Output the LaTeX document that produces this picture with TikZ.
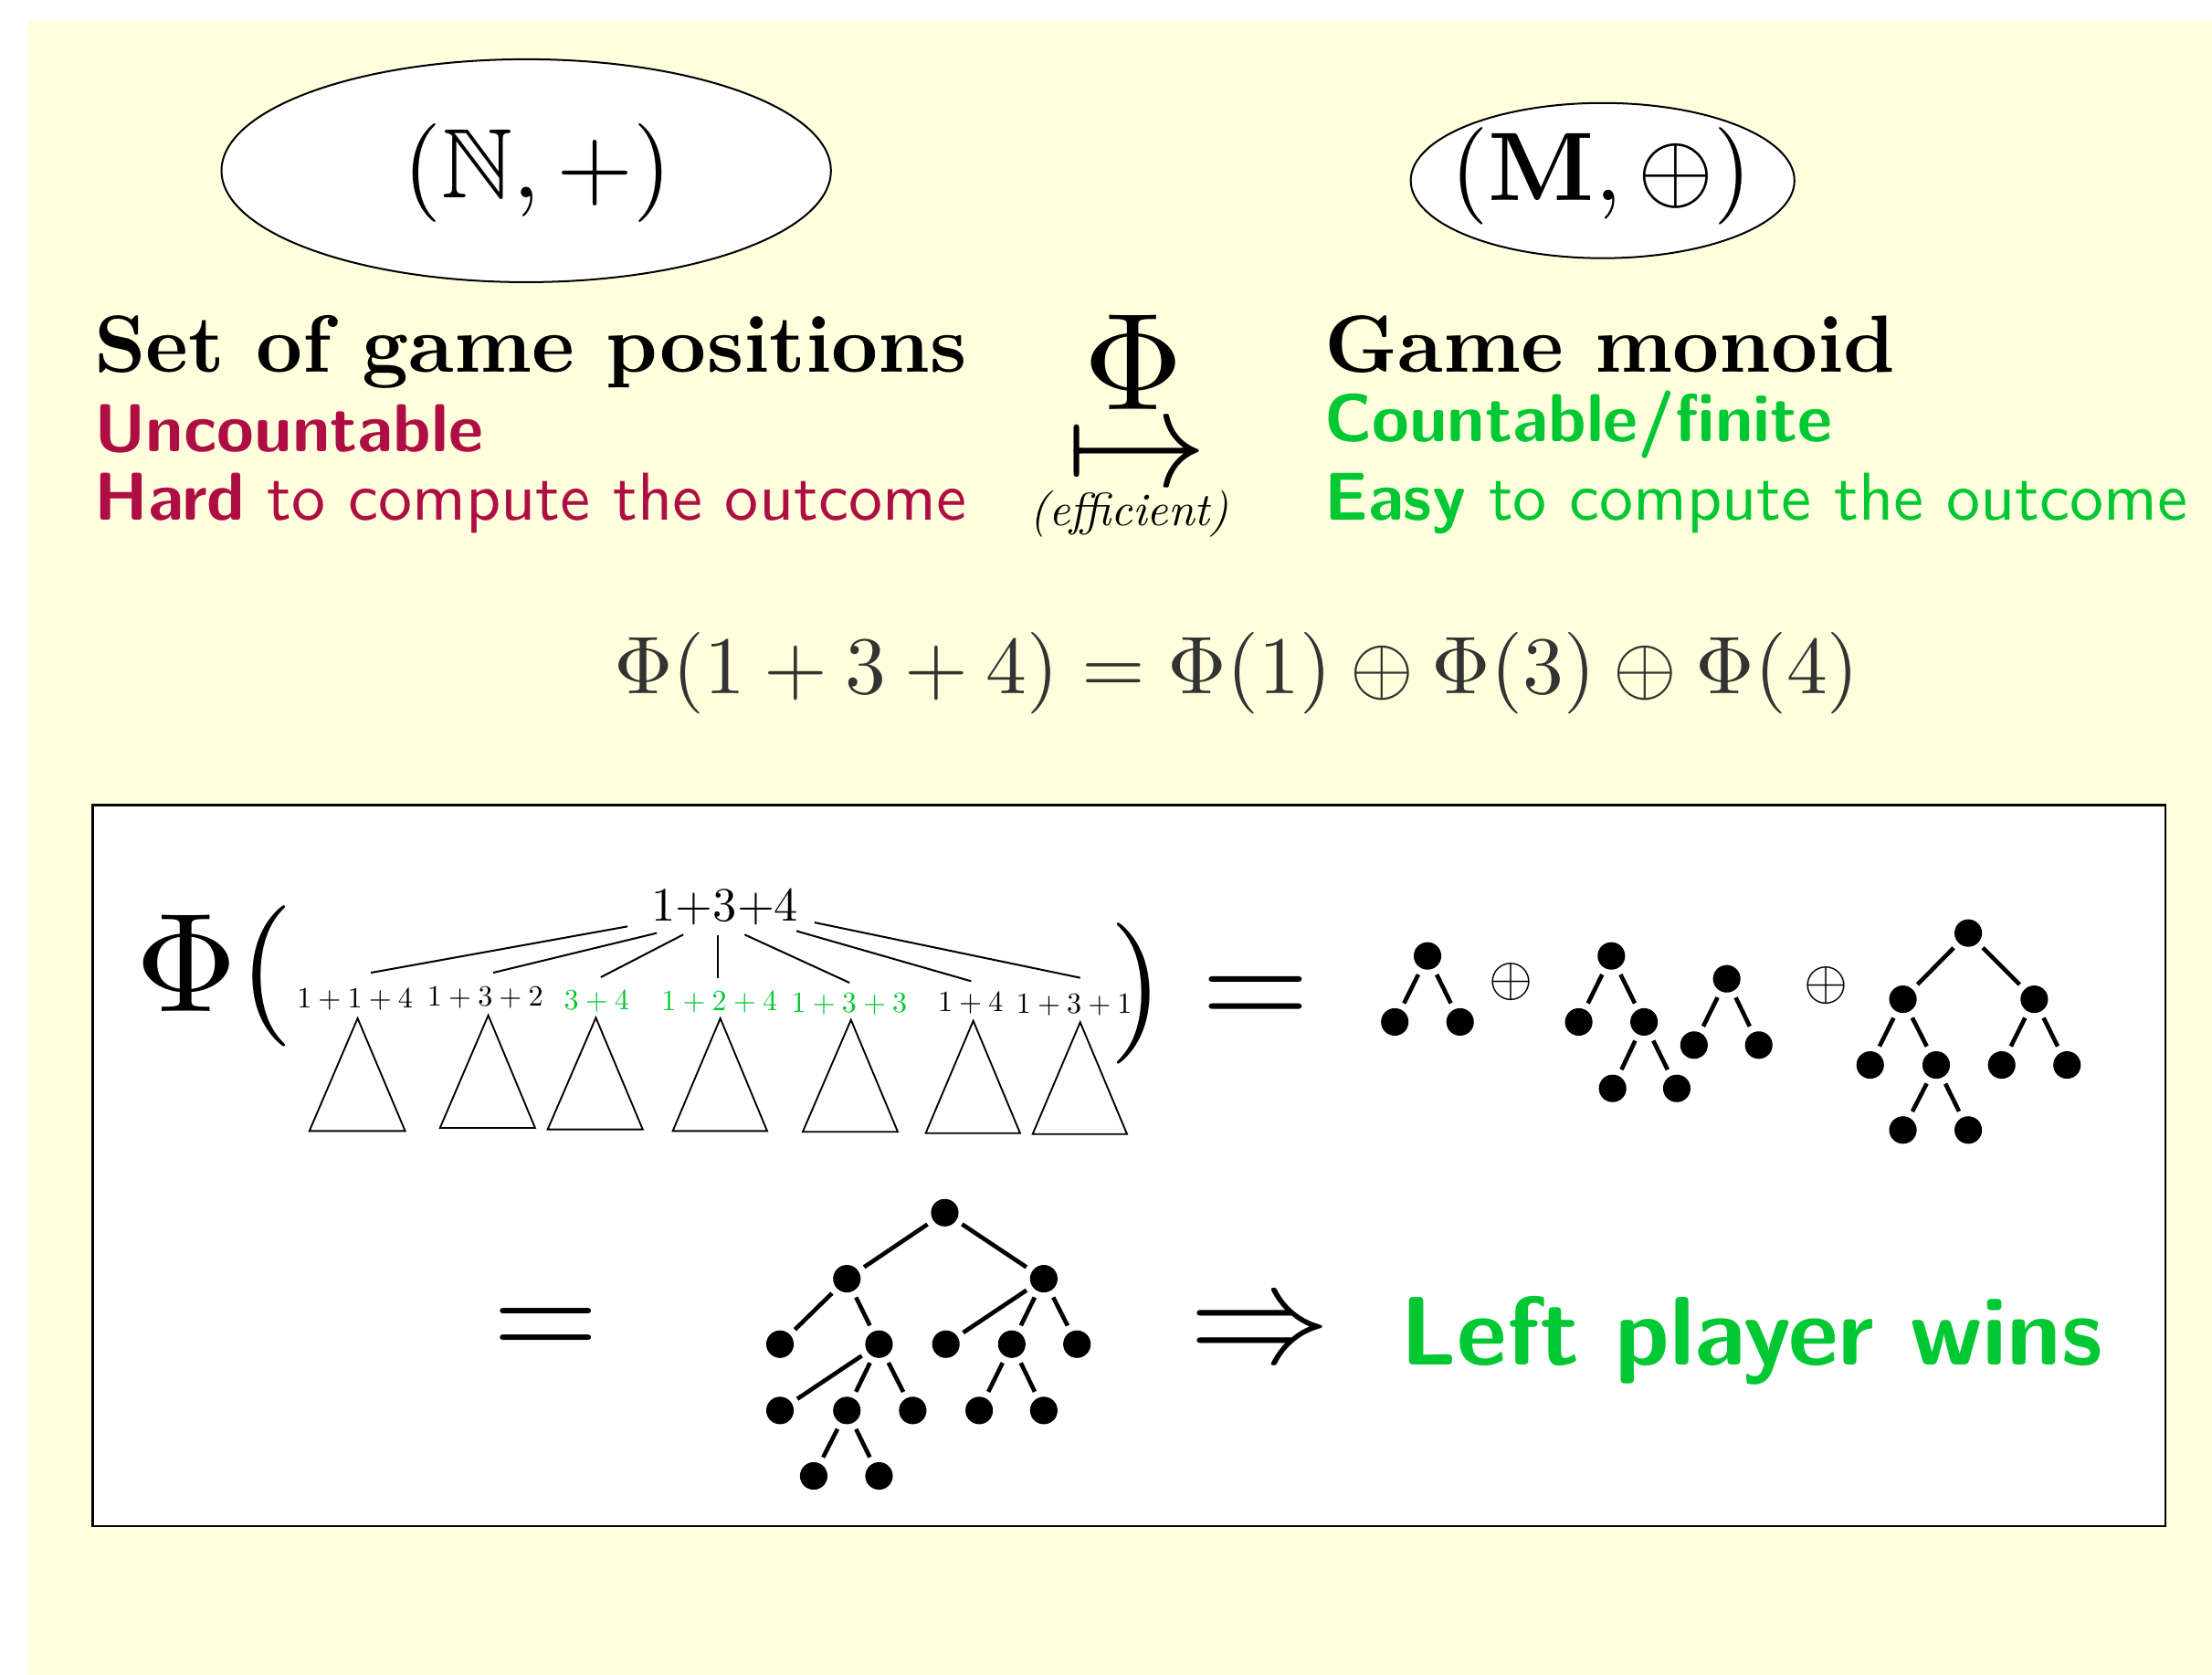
\documentclass[tikz,border=0pt]{standalone}
\usepackage{amssymb}
\usepackage[no-math]{fontspec}
\setmainfont{lmroman10-regular.otf}[BoldFont=lmroman10-bold.otf, ItalicFont=lmroman10-italic.otf, BoldItalicFont=lmroman10-bolditalic.otf]
\setsansfont{lmsans10-regular.otf}[BoldFont=lmsans10-bold.otf, ItalicFont=lmsans10-oblique.otf, BoldItalicFont=lmsans10-boldoblique.otf]
\DeclareFontShape{OT1}{cmr}{m}{n}{<->cmr10}{}
\DeclareFontShape{OT1}{cmr}{bx}{n}{<->cmbx10}{}
\DeclareFontShape{OML}{cmm}{m}{it}{<->cmmi10}{\skewchar\font'177}
\DeclareFontShape{OMS}{cmsy}{m}{n}{<->cmsy10}{\skewchar\font'60}
\DeclareFontShape{OMX}{cmex}{m}{n}{<->cmex10}{}
\usetikzlibrary{shapes.geometric}
\definecolor{bgyellow}{RGB}{255,255,222}
\definecolor{hardred}{RGB}{174,14,68}
\definecolor{easygreen}{RGB}{0,200,50}
\definecolor{eqgray}{RGB}{51,51,51}
\newcommand{\fs}[1]{\fontsize{#1}{#1}\selectfont}
\tikzset{
  txt/.style={inner sep=0pt, outer sep=0pt},
  oval/.style={ellipse, draw, fill=white, line width=1.3pt, inner sep=0pt},
  dot/.style={circle, fill=black, inner sep=0pt, minimum size=19.5pt, outer sep=5pt},
  tedge/.style={line width=3pt},
  gedge/.style={line width=1.3pt},
  tri/.style={line width=1.2pt, line join=miter},
  small/.style={txt, anchor=base, font=\fs{20.8}},
}
\begin{document}
\begin{tikzpicture}[x=1pt,y=-1pt]
\useasboundingbox (0,0) rectangle (1568,1187);
\fill[white] (0,0) rectangle (1568,1187);
\fill[bgyellow] (20,15) rectangle (1568,1187);

% header ovals
\node[oval, minimum width=432pt, minimum height=158pt] (ellN) at (373,121) {};
\node[txt, anchor=base] (setN) at (381,140) {\fs{70}$(\mathbb{N},+)$};
\node[oval, minimum width=272pt, minimum height=110pt] (ellM) at (1136,128) {};
\node[txt, anchor=base] (monM) at (1135,142) {\fs{69}$(\mathbf{M},\oplus)$};

% left texts
\node[txt, anchor=base west] (setpos) at (66.8,263.5) {\fs{57.5}\bfseries Set of game positions};
\node[txt, anchor=base west, text=hardred] (unc) at (66.8,320) {\fs{48}\sffamily\bfseries Uncountable};
\node[txt, anchor=base west, text=hardred] (hard) at (67,368.5) {\fs{48}\sffamily\textbf{Hard} to compute the outcome};

% right texts
\node[txt, anchor=base west] (gmon) at (939,263.5) {\fs{57.5}\bfseries Game monoid};
\node[txt, anchor=base west, text=easygreen] (cnt) at (939,313) {\fs{48}\sffamily\bfseries Countable/finite};
\node[txt, anchor=base west, text=easygreen] (easy) at (939,368.5) {\fs{48}\sffamily\textbf{Easy} to compute the outcome};

% map
\node[txt, anchor=base] (phiTop) at (803.5,290.5) {\fs{98}$\Phi$};
\node[txt, anchor=base, text height=48pt, text depth=0pt] (mapsto) at (806,345) {\fs{100}$\mapsto$};
\node[txt, anchor=base] (eff) at (800.5,372.8) {\fs{33}\itshape (efficient)};

% equation
\node[txt, anchor=base, text=eqgray] (eqn) at (876.5,492) {\fs{58}$\Phi(1+3+4)=\Phi(1)\oplus\Phi(3)\oplus\Phi(4)$};

% box
\node[draw, fill=white, line width=1.4pt, minimum width=1469pt, minimum height=511pt, anchor=north west, inner sep=0pt] (box) at (65,570) {};

% Phi( ... ) =
\node[txt, anchor=base] (bigphi) at (132.5,717) {\fs{100}$\Phi$};
\node[txt, anchor=base] (lpar) at (188.5,717) {\fs{100}$($};
\node[txt, anchor=base] (rpar) at (806,729) {\fs{100}$)$};
\node[txt, anchor=base] (eqA) at (890,728.5) {\fs{99}$=$};

% game tree labels
\node[txt, anchor=base] (root) at (514,653) {\fs{34}1+3+4};
\node[small] (c1) at (251.6,714.3) {$1+1+4$};
\node[small] (c2) at (344,713.2) {$1+3+2$};
\node[small, text=easygreen] (c3) at (423,716) {$3+4$};
\node[small, text=easygreen] (c4) at (510,716.4) {$1+2+4$};
\node[small, text=easygreen] (c5) at (602,717.5) {$1+3+3$};
\node[small] (c6) at (688,717) {$1+4$};
\node[small] (c7) at (761.5,718.2) {$1+3+1$};

\coordinate (r1) at (444.7,656.7); \coordinate (k1) at (262.9,689.5);
\coordinate (r2) at (465.5,661.4); \coordinate (k2) at (349.6,689.5);
\coordinate (r3) at (484.3,662.5); \coordinate (k3) at (425.9,692.7);
\coordinate (r4) at (509.1,663.0); \coordinate (k4) at (509.1,693.4);
\coordinate (r5) at (527.9,662.5); \coordinate (k5) at (602.2,696.6);
\coordinate (r6) at (564.5,659.9); \coordinate (k6) at (688.4,695.5);
\coordinate (r7) at (577.4,653.9); \coordinate (k7) at (765.7,693.1);
\foreach \i in {1,...,7} {\draw[gedge] (r\i) -- (k\i);}

% subtree triangles
\draw[tri] (253.5,721.8) -- (287.2,801.7) -- (219.3,801.7) -- cycle;
\draw[tri] (346.1,719.7) -- (379.3,799.5) -- (311.9,799.5) -- cycle;
\draw[tri] (422.4,721.4) -- (455.6,800.6) -- (388.2,800.6) -- cycle;
\draw[tri] (510.6,721.8) -- (543.8,801.7) -- (476.9,801.7) -- cycle;
\draw[tri] (603.2,722.9) -- (636.4,802.3) -- (569.0,802.3) -- cycle;
\draw[tri] (689.9,723.6) -- (723.1,803.2) -- (656.2,803.2) -- cycle;
\draw[tri] (765.7,724.6) -- (798.9,803.9) -- (732.0,803.9) -- cycle;

% tree A
\node[dot] (a0) at (1011.9,677.6) {};
\node[dot] (a1) at (988.7,724.4) {};
\node[dot] (a2) at (1035.0,724.4) {};
\draw[tedge] (a0) -- (a1); \draw[tedge] (a0) -- (a2);
\node[txt] (op1) at (1071.4,696) {\fs{40}$\oplus$};

% tree B
\node[dot] (b0) at (1142.2,677.6) {};
\node[dot] (b1) at (1119.1,724.4) {};
\node[dot] (b2) at (1165.4,724.4) {};
\node[dot] (b3) at (1143.1,771.5) {};
\node[dot] (b4) at (1188.6,771.5) {};
\draw[tedge] (b0) -- (b1); \draw[tedge] (b0) -- (b2);
\draw[tedge] (b2) -- (b3); \draw[tedge] (b2) -- (b4);
\node[dot] (e0) at (1224.0,693.8) {};
\node[dot] (e1) at (1200.8,740.8) {};
\node[dot] (e2) at (1246.7,740.8) {};
\draw[tedge] (e0) -- (e1); \draw[tedge] (e0) -- (e2);
\node[txt] (op2) at (1294.4,698.5) {\fs{40}$\oplus$};

% tree C
\node[dot] (f0) at (1395.2,661.4) {};
\node[dot] (f1) at (1348.9,708.3) {};
\node[dot] (f2) at (1442.0,708.3) {};
\node[dot] (f3) at (1325.7,754.9) {};
\node[dot] (f4) at (1372.5,754.9) {};
\node[dot] (f5) at (1418.9,754.9) {};
\node[dot] (f6) at (1465.2,754.9) {};
\node[dot] (f7) at (1348.9,801.0) {};
\node[dot] (f8) at (1395.2,801.0) {};
\draw[tedge] (f0) -- (f1); \draw[tedge] (f0) -- (f2);
\draw[tedge] (f1) -- (f3); \draw[tedge] (f1) -- (f4);
\draw[tedge] (f2) -- (f5); \draw[tedge] (f2) -- (f6);
\draw[tedge] (f4) -- (f7); \draw[tedge] (f4) -- (f8);

% bottom row
\node[txt, anchor=base] (eqB) at (387,963) {\fs{97}$=$};
\node[dot] (d0) at (669.7,859.6) {};
\node[dot] (d1) at (600.3,906.4) {};
\node[dot] (d2) at (739.9,906.4) {};
\node[dot] (d3) at (552.9,952.8) {};
\node[dot] (d4) at (623.1,952.8) {};
\node[dot] (d5) at (670.5,952.8) {};
\node[dot] (d6) at (717.2,952.8) {};
\node[dot] (d7) at (763.4,952.8) {};
\node[dot] (d8) at (552.9,999.8) {};
\node[dot] (d9) at (600.3,999.8) {};
\node[dot] (d10) at (647.0,999.8) {};
\node[dot] (d11) at (694.1,999.8) {};
\node[dot] (d12) at (739.9,999.8) {};
\node[dot] (d13) at (576.8,1046.2) {};
\node[dot] (d14) at (623.1,1046.2) {};
\draw[tedge] (d0) -- (d1); \draw[tedge] (d0) -- (d2);
\draw[tedge] (d1) -- (d3); \draw[tedge] (d1) -- (d4);
\draw[tedge] (d2) -- (d5); \draw[tedge] (d2) -- (d6); \draw[tedge] (d2) -- (d7);
\draw[tedge] (d4) -- (d8); \draw[tedge] (d4) -- (d9); \draw[tedge] (d4) -- (d10);
\draw[tedge] (d6) -- (d11); \draw[tedge] (d6) -- (d12);
\draw[tedge] (d9) -- (d13); \draw[tedge] (d9) -- (d14);

\node[txt, anchor=base] (impl) at (893.5,965.7) {\fs{100}$\Rightarrow$};
\node[txt, anchor=base west, text=easygreen] (wins) at (993,967.2) {\fs{69}\sffamily\bfseries Left player wins};
\end{tikzpicture}
\end{document}
